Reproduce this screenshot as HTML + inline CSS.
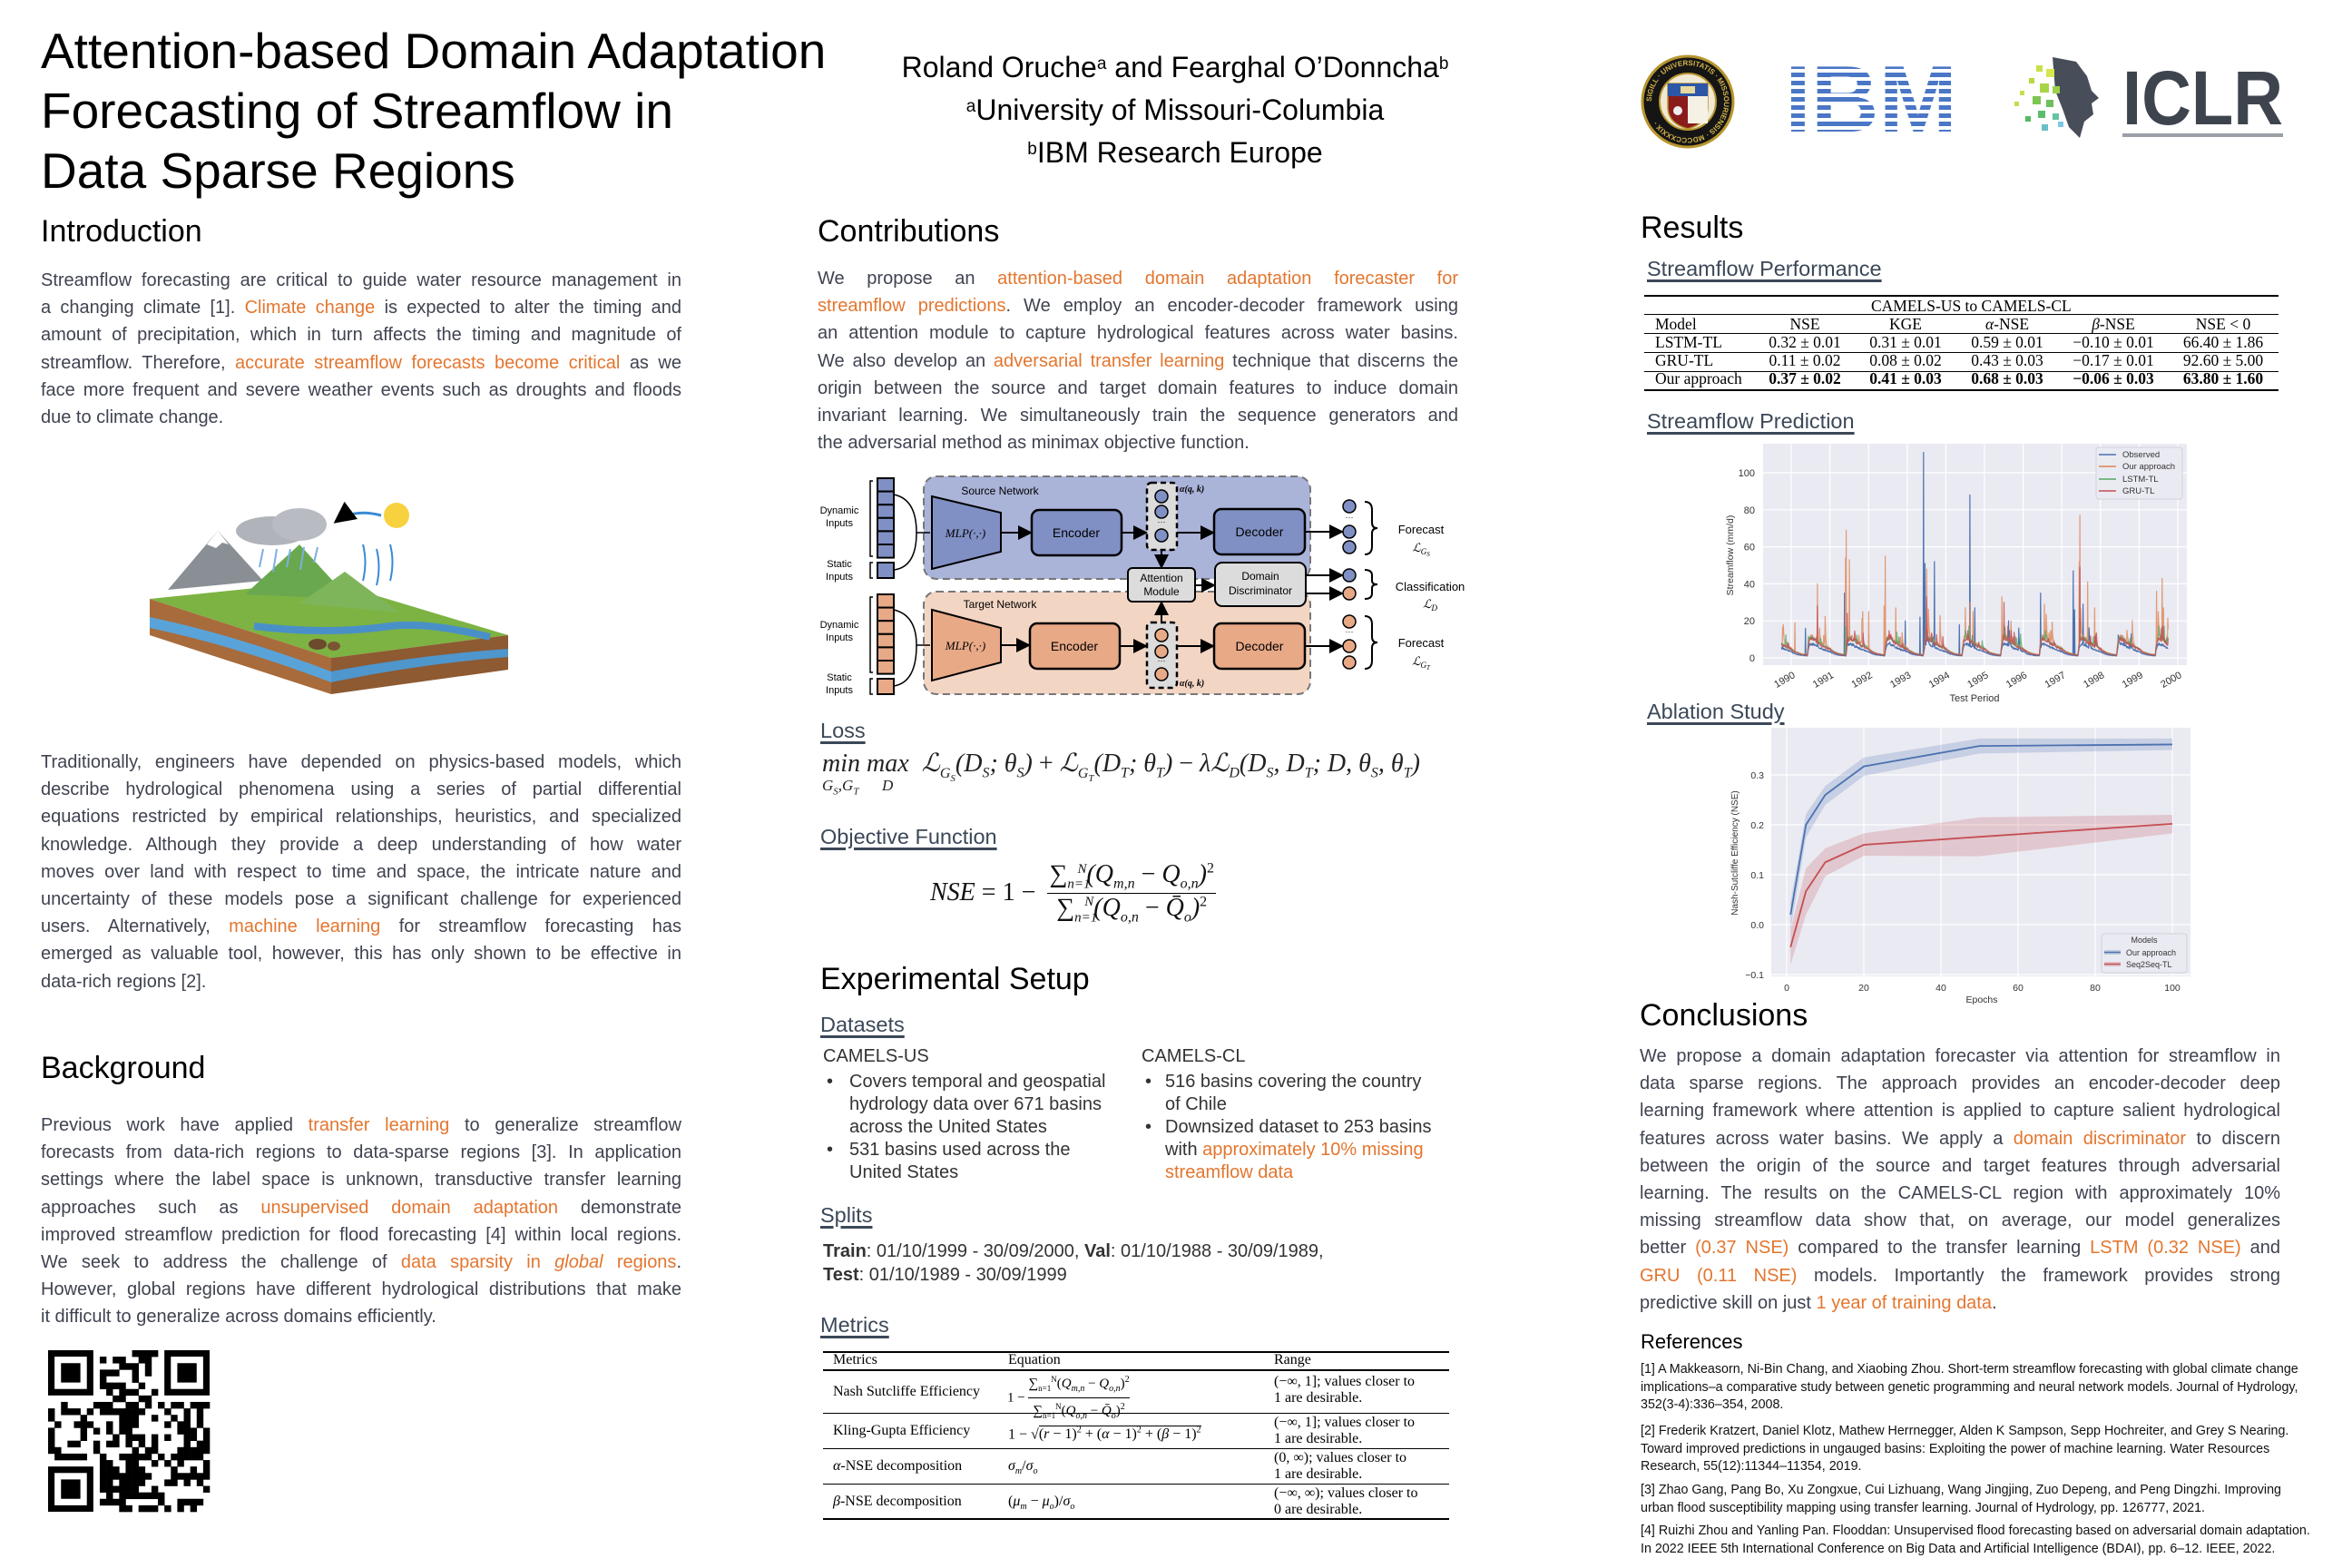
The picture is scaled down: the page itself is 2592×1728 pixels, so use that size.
<!DOCTYPE html>
<html><head><meta charset="utf-8">
<style>
*{margin:0;padding:0;box-sizing:border-box}
body{width:2592px;height:1728px;background:#fff;position:relative;overflow:hidden;font-family:"Liberation Sans",Arial,sans-serif;color:#3f4350}
.a{position:absolute}
.title{left:45px;top:23px;font-size:55px;line-height:66px;color:#000;white-space:nowrap}
.auth{left:945px;top:51px;width:700px;text-align:center;font-size:32px;line-height:47px;color:#000;white-space:nowrap}
.auth sup{font-size:19px;vertical-align:top;position:relative;top:-4px}
.h{font-size:34px;line-height:40px;color:#000;white-space:nowrap}
.sh{font-size:23.5px;line-height:30px;color:#3b4858;text-decoration:underline;text-decoration-thickness:3px;text-underline-offset:4px;white-space:nowrap}
.p{font-size:20px;width:706px}
.p div{height:30.2px;line-height:30.2px;white-space:nowrap}
.p .j{text-align:justify;text-align-last:justify}
.o{color:#e3762f}
.ds{font-size:20px;line-height:25px;color:#333;white-space:nowrap}
.ref{font-size:14.3px;line-height:19.5px;color:#111;white-space:nowrap;left:1808px}
.serif{font-family:"Liberation Serif","Times New Roman",serif;color:#000}
.tb{font-size:17.5px;line-height:20px;white-space:nowrap}
.mt{font-size:16px;line-height:18px;white-space:nowrap}
.hr{position:absolute;background:#000}
.frac{display:inline-block;vertical-align:middle;text-align:center}
.frac>span{display:block}
.frac .num{border-bottom:1.5px solid #000}
</style></head><body>

<div class="a title">Attention-based Domain Adaptation<br>Forecasting of Streamflow in<br>Data Sparse Regions</div>
<div class="a auth">Roland Oruche<sup>a</sup> and Fearghal O’Donncha<sup>b</sup><br><sup>a</sup>University of Missouri-Columbia<br><sup>b</sup>IBM Research Europe</div>

<svg class="a" style="left:0;top:0" width="2592" height="1728" xmlns="http://www.w3.org/2000/svg" font-family="Liberation Sans, Arial, sans-serif">
<defs>
<marker id="ar" markerWidth="8" markerHeight="8" refX="7" refY="4" orient="auto"><path d="M0,0 L8,4 L0,8 z" fill="#000"/></marker>
<path id="sealp" d="M1860,112 m-40,0 a40,40 0 1,1 80,0 a40,40 0 1,1 -80,0"/>
</defs>
<!-- Seal -->
<circle cx="1860" cy="112" r="50" fill="#151515" stroke="#b8962e" stroke-width="3"/>
<circle cx="1860" cy="112" r="31" fill="#efe9d6" stroke="#b8962e" stroke-width="2"/>
<text font-size="8" fill="#d4b44a" font-weight="bold"><textPath href="#sealp">SIGILL · UNIVERSITATIS · MISSOURIENSIS · MDCCCXXXIX ·</textPath></text>
<path d="M1838,92 L1882,92 L1882,118 Q1882,136 1860,142 Q1838,136 1838,118 Z" fill="#8b1c1c" stroke="#b8962e" stroke-width="1.5"/>
<rect x="1838" y="92" width="44" height="14" fill="#2c57a8"/>
<rect x="1860" y="106" width="22" height="30" fill="#f5f1e4"/>
<rect x="1852" y="95" width="16" height="8" fill="#e8d9a0"/>
<circle cx="1849" cy="122" r="5" fill="#eee"/>
<!-- IBM -->
<text x="1967" y="145" font-size="104" font-weight="bold" fill="#4a76c6" textLength="190" lengthAdjust="spacingAndGlyphs" font-family="Liberation Sans, Arial">IBM</text>
<g fill="#fff">
<rect x="1960" y="76" width="205" height="4"/><rect x="1960" y="85" width="205" height="4"/><rect x="1960" y="94" width="205" height="4"/><rect x="1960" y="103" width="205" height="4"/><rect x="1960" y="112" width="205" height="4"/><rect x="1960" y="121" width="205" height="4"/><rect x="1960" y="130" width="205" height="4"/><rect x="1960" y="139" width="205" height="4"/>
</g>
<!-- ICLR -->
<polygon points="2262,63 2288,68 2300,84 2305,100 2313,108 2305,114 2307,126 2297,134 2292,152 2280,140 2273,120 2265,100" fill="#474d59"/>
<g>
<rect x="2244" y="72" width="7" height="7" fill="#c8e04a"/><rect x="2255" y="76" width="9" height="9" fill="#d5e64f"/><rect x="2236" y="86" width="6" height="6" fill="#b5d940"/>
<rect x="2248" y="92" width="10" height="10" fill="#a8d548"/><rect x="2262" y="95" width="8" height="8" fill="#9bd04a"/><rect x="2226" y="100" width="5" height="5" fill="#c6e050"/>
<rect x="2240" y="106" width="9" height="9" fill="#7cc551"/><rect x="2255" y="110" width="8" height="8" fill="#6cbf5a"/><rect x="2220" y="112" width="5" height="5" fill="#bfe04b"/>
<rect x="2246" y="122" width="8" height="8" fill="#5cbc6d"/><rect x="2262" y="125" width="7" height="7" fill="#64c3a0"/><rect x="2232" y="128" width="6" height="6" fill="#58b866"/>
<rect x="2250" y="137" width="7" height="7" fill="#6ac0c8"/><rect x="2268" y="134" width="6" height="6" fill="#7cc8e8"/>
</g>
<text x="2339" y="137" font-size="84" font-weight="bold" fill="#3e444e" textLength="177" lengthAdjust="spacingAndGlyphs">ICLR</text>
<rect x="2339" y="147" width="177" height="4" fill="#9aa0a6"/>

<!-- Illustration -->
<g>
<polygon points="165,660 360,640 560,700 365,725" fill="#7cb342"/>
<polygon points="165,660 365,725 365,765 165,700" fill="#a86b3c"/>
<polygon points="365,725 560,700 560,738 365,765" fill="#8d5a32"/>
<path d="M165,680 Q260,700 365,740 L365,752 Q260,712 165,692 Z" fill="#5aa3d9"/>
<path d="M365,740 Q460,722 560,715 L560,724 Q460,732 365,752 Z" fill="#4f96cc"/>
<polygon points="185,650 240,585 290,640" fill="#8a8f96"/>
<polygon points="228,600 240,585 252,600 245,598 238,604" fill="#fff"/>
<polygon points="270,655 330,600 385,660" fill="#6aa84f"/>
<polygon points="330,665 380,630 440,675" fill="#7fb55a"/>
<path d="M280,690 Q360,700 430,690 Q470,685 540,702" stroke="#4a90c8" stroke-width="8" fill="none"/>
<ellipse cx="300" cy="585" rx="40" ry="16" fill="#b0b4ba"/><ellipse cx="330" cy="578" rx="30" ry="18" fill="#b8bcc2"/>
<g stroke="#7ab0e0" stroke-width="2"><line x1="290" y1="605" x2="286" y2="625"/><line x1="305" y1="605" x2="301" y2="630"/><line x1="320" y1="605" x2="316" y2="625"/><line x1="335" y1="603" x2="331" y2="628"/><line x1="350" y1="603" x2="346" y2="620"/></g>
<circle cx="437" cy="568" r="14" fill="#f7d23e"/>
<path d="M420,568 Q390,560 370,575" stroke="#3a8ad6" stroke-width="3" fill="none" marker-end="url(#ar)"/>
<g stroke="#3a8ad6" stroke-width="2" fill="none"><path d="M400,640 Q405,620 400,600"/><path d="M415,645 Q420,625 415,605"/><path d="M430,640 Q435,620 430,600"/></g>
<ellipse cx="350" cy="710" rx="10" ry="6" fill="#6b4a2e"/><ellipse cx="368" cy="712" rx="7" ry="5" fill="#7a5534"/>
</g>

<!-- Architecture diagram -->
<g font-size="12" fill="#000">
<rect x="1018" y="525" width="426" height="113" rx="14" fill="#aab3d8" stroke="#777" stroke-width="2" stroke-dasharray="8,5"/>
<rect x="1018" y="652" width="426" height="113" rx="14" fill="#f3d5c4" stroke="#777" stroke-width="2" stroke-dasharray="8,5"/>
<text x="1102" y="545" text-anchor="middle" font-size="12">Source Network</text>
<text x="1102" y="670" text-anchor="middle" font-size="12">Target Network</text>
<g stroke="#000" stroke-width="2" fill="#8090c4">
<rect x="967" y="527" width="18" height="14.6"/><rect x="967" y="541.6" width="18" height="14.6"/><rect x="967" y="556.2" width="18" height="14.6"/><rect x="967" y="570.8" width="18" height="14.6"/><rect x="967" y="585.4" width="18" height="14.6"/><rect x="967" y="600" width="18" height="14.6"/>
<rect x="967" y="620" width="18" height="17"/>
</g>
<g stroke="#000" stroke-width="2" fill="#e8a987">
<rect x="967" y="655" width="18" height="14.6"/><rect x="967" y="669.6" width="18" height="14.6"/><rect x="967" y="684.2" width="18" height="14.6"/><rect x="967" y="698.8" width="18" height="14.6"/><rect x="967" y="713.4" width="18" height="14.6"/><rect x="967" y="728" width="18" height="14.6"/>
<rect x="967" y="748" width="18" height="17"/>
</g>
<g stroke="#000" stroke-width="1.5" fill="none">
<path d="M962,530 L959,530 L959,613 L962,613"/><path d="M962,620 L959,620 L959,637 L962,637"/>
<path d="M962,658 L959,658 L959,741 L962,741"/><path d="M962,748 L959,748 L959,765 L962,765"/>
<path d="M985,545 Q1010,550 1010,587 L1025,587"/><path d="M985,628 Q1010,625 1010,587"/>
<path d="M985,672 Q1010,678 1010,711 L1025,711"/><path d="M985,756 Q1010,752 1010,711"/>
</g>
<g text-anchor="middle" font-size="11"><text x="925" y="566">Dynamic</text><text x="925" y="580">Inputs</text><text x="925" y="625">Static</text><text x="925" y="639">Inputs</text>
<text x="925" y="692">Dynamic</text><text x="925" y="706">Inputs</text><text x="925" y="750">Static</text><text x="925" y="764">Inputs</text></g>
<polygon points="1027,547 1103,565 1103,608 1027,627" fill="#8090c4" stroke="#000" stroke-width="2"/>
<polygon points="1027,672 1103,692 1103,730 1027,750" fill="#e8a987" stroke="#000" stroke-width="2"/>
<text x="1064" y="592" text-anchor="middle" font-size="13" font-style="italic" font-family="Liberation Serif, serif">MLP(·,·)</text>
<text x="1064" y="716" text-anchor="middle" font-size="13" font-style="italic" font-family="Liberation Serif, serif">MLP(·,·)</text>
<rect x="1137" y="562" width="99" height="50" rx="8" fill="#8090c4" stroke="#000" stroke-width="2.5"/>
<rect x="1135" y="687" width="99" height="50" rx="8" fill="#e8a987" stroke="#000" stroke-width="2.5"/>
<rect x="1338" y="561" width="100" height="50" rx="8" fill="#8090c4" stroke="#000" stroke-width="2.5"/>
<rect x="1338" y="687" width="100" height="50" rx="8" fill="#e8a987" stroke="#000" stroke-width="2.5"/>
<g font-size="14" text-anchor="middle"><text x="1186" y="592">Encoder</text><text x="1184" y="717">Encoder</text><text x="1388" y="591">Decoder</text><text x="1388" y="717">Decoder</text></g>
<rect x="1264" y="532" width="33" height="74" rx="5" fill="#dcdcdc" stroke="#000" stroke-width="2.5" stroke-dasharray="6,4"/>
<rect x="1264" y="686" width="33" height="72" rx="5" fill="#dcdcdc" stroke="#000" stroke-width="2.5" stroke-dasharray="6,4"/>
<g stroke="#000" stroke-width="1.5"><circle cx="1280" cy="547" r="7" fill="#8090c4"/><circle cx="1280" cy="564" r="7" fill="#8090c4"/><circle cx="1280" cy="590" r="7" fill="#8090c4"/>
<circle cx="1280" cy="700" r="7" fill="#e8a987"/><circle cx="1280" cy="718" r="7" fill="#e8a987"/><circle cx="1280" cy="743" r="7" fill="#e8a987"/>
<circle cx="1487" cy="558" r="7" fill="#8090c4"/><circle cx="1487" cy="586" r="7" fill="#8090c4"/><circle cx="1487" cy="603" r="7" fill="#8090c4"/>
<circle cx="1487" cy="634" r="7" fill="#8090c4"/><circle cx="1487" cy="654" r="7" fill="#e8a987"/>
<circle cx="1487" cy="685" r="7" fill="#e8a987"/><circle cx="1487" cy="712" r="7" fill="#e8a987"/><circle cx="1487" cy="730" r="7" fill="#e8a987"/></g>
<g font-size="9" text-anchor="middle"><text x="1280" y="578">···</text><text x="1280" y="731">···</text><text x="1487" y="573">···</text><text x="1487" y="699">···</text></g>
<g font-size="10" font-weight="bold" font-style="italic" font-family="Liberation Serif, serif"><text x="1300" y="542">α(q, k)</text><text x="1300" y="756">α(q, k)</text></g>
<rect x="1243" y="626" width="74" height="37" rx="5" fill="#dcdcdc" stroke="#000" stroke-width="2"/>
<rect x="1339" y="620" width="100" height="48" rx="8" fill="#dcdcdc" stroke="#000" stroke-width="2"/>
<g font-size="12" text-anchor="middle"><text x="1280" y="641">Attention</text><text x="1280" y="656">Module</text><text x="1389" y="639">Domain</text><text x="1389" y="655">Discriminator</text></g>
<g stroke="#000" stroke-width="2" marker-end="url(#ar)">
<line x1="1103" y1="587" x2="1136" y2="587"/><line x1="1236" y1="587" x2="1263" y2="587"/><line x1="1297" y1="587" x2="1337" y2="587"/><line x1="1438" y1="586" x2="1479" y2="586"/>
<line x1="1103" y1="711" x2="1134" y2="711"/><line x1="1234" y1="712" x2="1263" y2="712"/><line x1="1297" y1="712" x2="1337" y2="712"/><line x1="1438" y1="712" x2="1479" y2="712"/>
<line x1="1280" y1="606" x2="1280" y2="625"/><line x1="1280" y1="686" x2="1280" y2="664"/><line x1="1317" y1="645" x2="1338" y2="645"/>
<line x1="1439" y1="634" x2="1479" y2="634"/><line x1="1439" y1="654" x2="1479" y2="654"/>
</g>
<g stroke="#000" stroke-width="2" fill="none">
<path d="M1504,553 Q1512,553 1512,562 L1512,576 Q1512,582 1518,582 Q1512,582 1512,588 L1512,602 Q1512,611 1504,611"/>
<path d="M1504,628 Q1512,628 1512,634 L1512,640 Q1512,644 1518,644 Q1512,644 1512,648 L1512,654 Q1512,660 1504,660"/>
<path d="M1504,679 Q1512,679 1512,688 L1512,702 Q1512,708 1518,708 Q1512,708 1512,714 L1512,728 Q1512,737 1504,737"/>
</g>
<g font-size="13" text-anchor="middle"><text x="1566" y="588">Forecast</text><text x="1576" y="651">Classification</text><text x="1566" y="713">Forecast</text></g>
<g font-size="13" text-anchor="middle" font-style="italic" font-family="Liberation Serif, serif"><text x="1566" y="608">ℒ<tspan font-size="9" dy="3">G</tspan><tspan font-size="7" dy="2">S</tspan></text><text x="1576" y="670">ℒ<tspan font-size="9" dy="3">D</tspan></text><text x="1566" y="733">ℒ<tspan font-size="9" dy="3">G</tspan><tspan font-size="7" dy="2">T</tspan></text></g>
</g>

<!-- Streamflow chart -->
<g id="sf">
<rect x="1943" y="489" width="467" height="244" fill="#eaeaf2"/>
<g stroke="#fff" stroke-width="1.2" id="sfgrid"></g>
<g id="sfseries" fill="none" stroke-width="1.2" stroke-linejoin="round"></g>
<rect x="2310" y="493" width="95" height="57" fill="#eaeaf2" stroke="#d0d0d8" rx="3" opacity="0.95"/>
<g stroke-width="1.6"><line x1="2313" y1="501" x2="2332" y2="501" stroke="#4c72b0"/><line x1="2313" y1="514" x2="2332" y2="514" stroke="#dd8452"/><line x1="2313" y1="528" x2="2332" y2="528" stroke="#55a868"/><line x1="2313" y1="541" x2="2332" y2="541" stroke="#c44e52"/></g>
<g font-size="9.5" fill="#333"><text x="2339" y="504">Observed</text><text x="2339" y="517">Our approach</text><text x="2339" y="531">LSTM-TL</text><text x="2339" y="544">GRU-TL</text></g>
<g id="sfticks" font-size="11" fill="#333"></g>
<text x="2176" y="773" text-anchor="middle" font-size="11" fill="#333">Test Period</text>
<text transform="translate(1910,612) rotate(-90)" text-anchor="middle" font-size="10.5" fill="#333">Streamflow (mm/d)</text>
</g>

<!-- Ablation chart -->
<g id="ab">
<rect x="1952" y="802" width="462" height="274" fill="#eaeaf2"/>
<g stroke="#fff" stroke-width="1.2" id="abgrid"></g>
<g id="abseries"></g>
<rect x="2316" y="1029" width="94" height="43" fill="#eaeaf2" stroke="#d0d0d8" rx="3"/>
<text x="2363" y="1039" text-anchor="middle" font-size="9" fill="#333">Models</text>
<rect x="2319" y="1047" width="18" height="5" fill="#4c72b0" opacity="0.25"/><line x1="2319" y1="1049.5" x2="2337" y2="1049.5" stroke="#4c72b0" stroke-width="1.6"/>
<rect x="2319" y="1060" width="18" height="5" fill="#c44e52" opacity="0.25"/><line x1="2319" y1="1062.5" x2="2337" y2="1062.5" stroke="#c44e52" stroke-width="1.6"/>
<g font-size="9" fill="#333"><text x="2343" y="1053">Our approach</text><text x="2343" y="1066">Seq2Seq-TL</text></g>
<g id="abticks" font-size="10.5" fill="#333"></g>
<text x="2184" y="1105" text-anchor="middle" font-size="10.5" fill="#333">Epochs</text>
<text transform="translate(1915,940) rotate(-90)" text-anchor="middle" font-size="10" fill="#333">Nash-Sutcliffe Efficiency (NSE)</text>
</g>

<!-- QR -->
<g id="qr"></g>
</svg>

<!-- Headings -->
<div class="a h" style="left:45px;top:235px">Introduction</div>
<div class="a h" style="left:901px;top:235px">Contributions</div>
<div class="a h" style="left:1808px;top:231px">Results</div>
<div class="a h" style="left:45px;top:1157px">Background</div>
<div class="a h" style="left:904px;top:1059px">Experimental Setup</div>
<div class="a h" style="left:1807px;top:1099px">Conclusions</div>

<div class="a sh" style="left:904px;top:790px">Loss</div>
<div class="a sh" style="left:904px;top:907px">Objective Function</div>
<div class="a sh" style="left:904px;top:1114px">Datasets</div>
<div class="a sh" style="left:904px;top:1324px">Splits</div>
<div class="a sh" style="left:904px;top:1445px">Metrics</div>
<div class="a sh" style="left:1815px;top:281px">Streamflow Performance</div>
<div class="a sh" style="left:1815px;top:449px">Streamflow Prediction</div>
<div class="a sh" style="left:1815px;top:769px">Ablation Study</div>

<!-- Intro -->
<div class="a p" style="left:45px;top:294px">
<div class="j">Streamflow forecasting are critical to guide water resource management in</div>
<div class="j">a changing climate [1]. <span class="o">Climate change</span> is expected to alter the timing and</div>
<div class="j">amount of precipitation, which in turn affects the timing and magnitude of</div>
<div class="j">streamflow. Therefore, <span class="o">accurate streamflow forecasts become critical</span> as we</div>
<div class="j">face more frequent and severe weather events such as droughts and floods</div>
<div>due to climate change.</div>
</div>
<div class="a p" style="left:45px;top:825px">
<div class="j">Traditionally, engineers have depended on physics-based models, which</div>
<div class="j">describe hydrological phenomena using a series of partial differential</div>
<div class="j">equations restricted by empirical relationships, heuristics, and specialized</div>
<div class="j">knowledge. Although they provide a deep understanding of how water</div>
<div class="j">moves over land with respect to time and space, the intricate nature and</div>
<div class="j">uncertainty of these models pose a significant challenge for experienced</div>
<div class="j">users. Alternatively, <span class="o">machine learning</span> for streamflow forecasting has</div>
<div class="j">emerged as valuable tool, however, this has only shown to be effective in</div>
<div>data-rich regions [2].</div>
</div>
<div class="a p" style="left:45px;top:1225px">
<div class="j">Previous work have applied <span class="o">transfer learning</span> to generalize streamflow</div>
<div class="j">forecasts from data-rich regions to data-sparse regions [3]. In application</div>
<div class="j">settings where the label space is unknown, transductive transfer learning</div>
<div class="j">approaches such as <span class="o">unsupervised domain adaptation</span> demonstrate</div>
<div class="j">improved streamflow prediction for flood forecasting [4] within local regions.</div>
<div class="j">We seek to address the challenge of <span class="o">data sparsity in <i>global</i> regions</span>.</div>
<div class="j">However, global regions have different hydrological distributions that make</div>
<div>it difficult to generalize across domains efficiently.</div>
</div>
<div class="a p" style="left:901px;top:292px">
<div class="j">We propose an <span class="o">attention-based domain adaptation forecaster for</span></div>
<div class="j"><span class="o">streamflow predictions</span>. We employ an encoder-decoder framework using</div>
<div class="j">an attention module to capture hydrological features across water basins.</div>
<div class="j">We also develop an <span class="o">adversarial transfer learning</span> technique that discerns the</div>
<div class="j">origin between the source and target domain features to induce domain</div>
<div class="j">invariant learning. We simultaneously train the sequence generators and</div>
<div>the adversarial method as minimax objective function.</div>
</div>
<div class="a p" style="left:1807px;top:1149px">
<div class="j">We propose a domain adaptation forecaster via attention for streamflow in</div>
<div class="j">data sparse regions. The approach provides an encoder-decoder deep</div>
<div class="j">learning framework where attention is applied to capture salient hydrological</div>
<div class="j">features across water basins. We apply a <span class="o">domain discriminator</span> to discern</div>
<div class="j">between the origin of the source and target features through adversarial</div>
<div class="j">learning. The results on the CAMELS-CL region with approximately 10%</div>
<div class="j">missing streamflow data show that, on average, our model generalizes</div>
<div class="j">better <span class="o">(0.37 NSE)</span> compared to the transfer learning <span class="o">LSTM (0.32 NSE)</span> and</div>
<div class="j"><span class="o">GRU (0.11 NSE)</span> models. Importantly the framework provides strong</div>
<div>predictive skill on just <span class="o">1 year of training data</span>.</div>
</div>

<!-- Loss equation -->
<div class="a serif" style="left:906px;top:826px;font-size:28px;line-height:32px;white-space:nowrap;font-style:italic;color:#222">min max&nbsp; ℒ<sub style="font-size:16px">G<sub style="font-size:11px">S</sub></sub>(D<sub style="font-size:16px">S</sub>; θ<sub style="font-size:16px">S</sub>) <span style="font-style:normal">+</span> ℒ<sub style="font-size:16px">G<sub style="font-size:11px">T</sub></sub>(D<sub style="font-size:16px">T</sub>; θ<sub style="font-size:16px">T</sub>) <span style="font-style:normal">−</span> λℒ<sub style="font-size:16px">D</sub>(D<sub style="font-size:16px">S</sub>, D<sub style="font-size:16px">T</sub>; D, θ<sub style="font-size:16px">S</sub>, θ<sub style="font-size:16px">T</sub>)</div>
<div class="a serif" style="left:906px;top:856px;font-size:17px;font-style:italic;white-space:nowrap;color:#222">G<sub style="font-size:11px">S</sub>,G<sub style="font-size:11px">T</sub>&nbsp;&nbsp;&nbsp;&nbsp;&nbsp; D</div>

<!-- NSE equation -->
<div class="a serif" style="left:1025px;top:948px;font-size:28px;white-space:nowrap;font-style:italic;color:#111">
<span style="vertical-align:middle">NSE <span style="font-style:normal">= 1 −</span></span>
<span class="frac" style="margin-left:6px"><span class="num" style="padding:0 2px">∑<sub style="font-size:15px">n=1</sub><sup style="font-size:15px;margin-left:-14px">N</sup>(Q<sub style="font-size:16px">m,n</sub> <span style="font-style:normal">−</span> Q<sub style="font-size:16px">o,n</sub>)<sup style="font-size:16px;font-style:normal">2</sup></span><span>∑<sub style="font-size:15px">n=1</sub><sup style="font-size:15px;margin-left:-14px">N</sup>(Q<sub style="font-size:16px">o,n</sub> <span style="font-style:normal">−</span> Q̄<sub style="font-size:16px">o</sub>)<sup style="font-size:16px;font-style:normal">2</sup></span></span>
</div>

<!-- Datasets -->
<div class="a ds" style="left:907px;top:1152px">CAMELS-US</div>
<div class="a ds" style="left:1258px;top:1152px">CAMELS-CL</div>
<div class="a ds" style="left:911px;top:1180px">•<br><br><br>•</div>
<div class="a ds" style="left:936px;top:1180px">Covers temporal and geospatial<br>hydrology data over 671 basins<br>across the United States<br>531 basins used across the<br>United States</div>
<div class="a ds" style="left:1262px;top:1180px">•<br><br>•</div>
<div class="a ds" style="left:1284px;top:1180px">516 basins covering the country<br>of Chile<br>Downsized dataset to 253 basins<br>with <span class="o">approximately 10% missing</span><br><span class="o">streamflow data</span></div>

<div class="a ds" style="left:907px;top:1366px;line-height:26px"><b>Train</b>: 01/10/1999 - 30/09/2000, <b>Val</b>: 01/10/1988 - 30/09/1989,<br><b>Test</b>: 01/10/1989 - 30/09/1999</div>

<!-- Metrics table -->
<div class="hr" style="left:907px;top:1489px;width:690px;height:2px"></div>
<div class="hr" style="left:907px;top:1509px;width:690px;height:1.5px"></div>
<div class="hr" style="left:907px;top:1557px;width:690px;height:1px"></div>
<div class="hr" style="left:907px;top:1596px;width:690px;height:1px"></div>
<div class="hr" style="left:907px;top:1635px;width:690px;height:1px"></div>
<div class="hr" style="left:907px;top:1673px;width:690px;height:2px"></div>
<div class="a serif mt" style="left:918px;top:1490px">Metrics</div>
<div class="a serif mt" style="left:1111px;top:1490px">Equation</div>
<div class="a serif mt" style="left:1404px;top:1490px">Range</div>
<div class="a serif mt" style="left:918px;top:1525px">Nash Sutcliffe Efficiency</div>
<div class="a serif mt" style="left:918px;top:1568px">Kling-Gupta Efficiency</div>
<div class="a serif mt" style="left:918px;top:1607px"><i>α</i>-NSE decomposition</div>
<div class="a serif mt" style="left:918px;top:1646px"><i>β</i>-NSE decomposition</div>
<div class="a serif mt" style="left:1110px;top:1511px;font-size:15px"><span style="vertical-align:middle">1 −</span> <span class="frac"><span class="num" style="line-height:19px">∑<sub style="font-size:9px">n=1</sub><sup style="font-size:9px">N</sup>(<i>Q<sub style="font-size:10px">m,n</sub></i> − <i>Q<sub style="font-size:10px">o,n</sub></i>)<sup style="font-size:10px">2</sup></span><span style="line-height:19px">∑<sub style="font-size:9px">n=1</sub><sup style="font-size:9px">N</sup>(<i>Q<sub style="font-size:10px">o,n</sub></i> − <i>Q̄<sub style="font-size:10px">o</sub></i>)<sup style="font-size:10px">2</sup></span></span></div>
<div class="a serif mt" style="left:1111px;top:1568px">1 − √<span style="border-top:1px solid #000">(<i>r</i> − 1)<sup style="font-size:10px">2</sup> + (<i>α</i> − 1)<sup style="font-size:10px">2</sup> + (<i>β</i> − 1)<sup style="font-size:10px">2</sup></span></div>
<div class="a serif mt" style="left:1111px;top:1607px"><i>σ<sub style="font-size:10px">m</sub></i>/<i>σ<sub style="font-size:10px">o</sub></i></div>
<div class="a serif mt" style="left:1111px;top:1646px">(<i>μ<sub style="font-size:10px">m</sub></i> − <i>μ<sub style="font-size:10px">o</sub></i>)/<i>σ<sub style="font-size:10px">o</sub></i></div>
<div class="a serif mt" style="left:1404px;top:1514px">(−∞, 1]; values closer to<br>1 are desirable.</div>
<div class="a serif mt" style="left:1404px;top:1559px">(−∞, 1]; values closer to<br>1 are desirable.</div>
<div class="a serif mt" style="left:1404px;top:1598px">(0, ∞); values closer to<br>1 are desirable.</div>
<div class="a serif mt" style="left:1404px;top:1637px">(−∞, ∞); values closer to<br>0 are desirable.</div>

<!-- Results table -->
<div class="hr" style="left:1812px;top:325px;width:699px;height:2px"></div>
<div class="hr" style="left:1812px;top:346px;width:699px;height:1px"></div>
<div class="hr" style="left:1812px;top:367px;width:699px;height:1px"></div>
<div class="hr" style="left:1812px;top:388px;width:699px;height:1px"></div>
<div class="hr" style="left:1812px;top:409px;width:699px;height:1px"></div>
<div class="hr" style="left:1812px;top:429px;width:699px;height:2px"></div>
<div class="a serif tb" style="left:2062px;top:327px;width:200px;text-align:center">CAMELS-US to CAMELS-CL</div>
<div class="a serif tb" style="left:1824px;top:347px">Model<br>LSTM-TL<br>GRU-TL<br>Our approach</div>
<div class="a serif tb" style="left:1929px;top:347px;width:120px;text-align:center">NSE<br>0.32 ± 0.01<br>0.11 ± 0.02<br><b>0.37 ± 0.02</b></div>
<div class="a serif tb" style="left:2040px;top:347px;width:120px;text-align:center">KGE<br>0.31 ± 0.01<br>0.08 ± 0.02<br><b>0.41 ± 0.03</b></div>
<div class="a serif tb" style="left:2152px;top:347px;width:120px;text-align:center"><i>α</i>-NSE<br>0.59 ± 0.01<br>0.43 ± 0.03<br><b>0.68 ± 0.03</b></div>
<div class="a serif tb" style="left:2264px;top:347px;width:130px;text-align:center"><i>β</i>-NSE<br>−0.10 ± 0.01<br>−0.17 ± 0.01<br><b>−0.06 ± 0.03</b></div>
<div class="a serif tb" style="left:2385px;top:347px;width:130px;text-align:center">NSE &lt; 0<br>66.40 ± 1.86<br>92.60 ± 5.00<br><b>63.80 ± 1.60</b></div>

<!-- References -->
<div class="a" style="left:1808px;top:1465px;font-size:22px;line-height:28px;color:#000">References</div>
<div class="a ref" style="top:1500px">[1] A Makkeasorn, Ni-Bin Chang, and Xiaobing Zhou. Short-term streamflow forecasting with global climate change<br>implications–a comparative study between genetic programming and neural network models. Journal of Hydrology,<br>352(3-4):336–354, 2008.</div>
<div class="a ref" style="top:1568px">[2] Frederik Kratzert, Daniel Klotz, Mathew Herrnegger, Alden K Sampson, Sepp Hochreiter, and Grey S Nearing.<br>Toward improved predictions in ungauged basins: Exploiting the power of machine learning. Water Resources<br>Research, 55(12):11344–11354, 2019.</div>
<div class="a ref" style="top:1633px">[3] Zhao Gang, Pang Bo, Xu Zongxue, Cui Lizhuang, Wang Jingjing, Zuo Depeng, and Peng Dingzhi. Improving<br>urban flood susceptibility mapping using transfer learning. Journal of Hydrology, pp. 126777, 2021.</div>
<div class="a ref" style="top:1678px">[4] Ruizhi Zhou and Yanling Pan. Flooddan: Unsupervised flood forecasting based on adversarial domain adaptation.<br>In 2022 IEEE 5th International Conference on Big Data and Artificial Intelligence (BDAI), pp. 6–12. IEEE, 2022.</div>

<script>
(function(){
var NS="http://www.w3.org/2000/svg";
function el(p,t,a,txt){var e=document.createElementNS(NS,t);for(var k in a)e.setAttribute(k,a[k]);if(txt!=null)e.textContent=txt;p.appendChild(e);return e;}
var seed=12345;function r(){seed=(seed*16807)%2147483647;return seed/2147483647;}
var X=function(y){return 1974+42.6*(y-1990);},Y=function(v){return 725-2.04*v;};
var g=document.getElementById('sfgrid'),tk=document.getElementById('sfticks');
for(var v=0;v<=100;v+=20){el(g,'line',{x1:1943,x2:2410,y1:Y(v),y2:Y(v)});el(tk,'text',{x:1934,y:Y(v)+4,'text-anchor':'end'},v);}
for(var y=1990;y<=2000;y++){el(g,'line',{x1:X(y),x2:X(y),y1:489,y2:733});el(tk,'text',{x:X(y)+5,y:746,'text-anchor':'end',transform:'rotate(-30 '+(X(y)+5)+' 746)'},y);}
var N=1100,t0=1989.75,dt=10/N;
function season(t){var f=t-Math.floor(t);if(f>=0.42){return (1-Math.exp(-(f-0.42)*25))*Math.exp(-(f-0.42)*2.2);}return Math.exp(-0.58*2.2)*Math.exp(-f*6);}
var cfg=[{c:'#4c72b0',k:0.75,p:0.025,a:12,o:1,sp:[[1991.38,35],[1993.42,111],[1993.46,51],[1993.7,52],[1994.62,88],[1996.45,35],[1997.3,47],[1997.33,26],[1997.55,29],[1990.37,16],[1992.95,20],[1994.35,18],[1994.75,27],[1995.62,20],[1993.33,22]]},
{c:'#dd8452',k:1.15,p:0.05,a:16,o:0.8,sp:[[1990.68,40],[1991.4,54],[1991.42,69],[1991.5,53],[1992.43,55],[1992.4,28],[1992.7,27],[1993.5,48],[1994.62,30],[1995.45,33],[1996.55,29],[1997.45,52],[1997.47,77],[1997.67,41],[1997.85,27],[1999.45,36],[1999.6,43],[1999.63,27],[1990.1,19],[1991.85,25],[1992.0,25],[1994.5,27],[1994.7,25]]},
{c:'#55a868',k:1.08,p:0.05,a:7,o:0.8,sp:[[1991.4,17],[1997.47,20],[1999.65,17],[1995.5,18]]},
{c:'#c44e52',k:1.02,p:0.06,a:8,o:0.85,sp:[[1990.68,28],[1997.47,49],[1993.5,33],[1995.5,30],[1991.45,24]]}];
var sg=document.getElementById('sfseries');
cfg.forEach(function(s){var vals=[],pulse=0;for(var i=0;i<=N;i++){var t=t0+i*dt,f=t-Math.floor(t),b=1.2+12*season(t);var wet=(f>0.42&&f<0.95);pulse=pulse*0.55+((wet&&r()<s.p)?r()*s.a:0);vals.push(b*s.k*(0.9+0.2*r())+pulse);}
s.sp.forEach(function(q){var i=Math.round((q[0]-t0)/dt);if(i>=0&&i<=N)vals[i]=Math.max(vals[i],q[1]);});
var d='';for(var i=0;i<=N;i++){d+=(i?'L':'M')+X(t0+i*dt).toFixed(1)+','+Y(vals[i]).toFixed(1);}
el(sg,'path',{d:d,stroke:s.c,'stroke-opacity':s.o});});
var AX=function(e){return 1969+4.25*e;},AY=function(v){return 1019-550*v;};
var ag=document.getElementById('abgrid'),at=document.getElementById('abticks');
[-0.1,0,0.1,0.2,0.3].forEach(function(v){el(ag,'line',{x1:1952,x2:2414,y1:AY(v),y2:AY(v)});el(at,'text',{x:1944,y:AY(v)+4,'text-anchor':'end'},v<0?'−0.1':v.toFixed(1));});
[0,20,40,60,80,100].forEach(function(e){el(ag,'line',{x1:AX(e),x2:AX(e),y1:802,y2:1076});el(at,'text',{x:AX(e),y:1092,'text-anchor':'middle'},e);});
var E=[1,5,10,20,50,100];
function band(lo,hi,m,c){var as=document.getElementById('abseries');var d='';E.forEach(function(e,i){d+=(i?'L':'M')+AX(e)+','+AY(hi[i]);});for(var i=E.length-1;i>=0;i--)d+='L'+AX(E[i])+','+AY(lo[i]);el(as,'path',{d:d+'Z',fill:c,'fill-opacity':0.22});var d2='';E.forEach(function(e,i){d2+=(i?'L':'M')+AX(e)+','+AY(m[i]);});el(as,'path',{d:d2,fill:'none',stroke:c,'stroke-width':1.8});}
band([-0.01,0.175,0.24,0.298,0.343,0.35],[0.045,0.222,0.278,0.335,0.373,0.373],[0.02,0.2,0.26,0.317,0.358,0.361],'#4c72b0');
band([-0.08,0.02,0.097,0.138,0.137,0.183],[-0.01,0.113,0.153,0.183,0.215,0.22],[-0.045,0.067,0.125,0.16,0.176,0.202],'#c44e52');
var qg=document.getElementById('qr'),n=25,s=178/25,ox=53,oy=1488;
el(qg,'rect',{x:ox,y:oy,width:178,height:178,fill:'#fff'});
function fin(cx,cy){el(qg,'rect',{x:ox+cx*s,y:oy+cy*s,width:7*s,height:7*s,fill:'#000'});el(qg,'rect',{x:ox+(cx+1)*s,y:oy+(cy+1)*s,width:5*s,height:5*s,fill:'#fff'});el(qg,'rect',{x:ox+(cx+2)*s,y:oy+(cy+2)*s,width:3*s,height:3*s,fill:'#000'});}
for(var i=0;i<n;i++)for(var j=0;j<n;j++){var inF=(i<8&&j<8)||(i>=n-8&&j<8)||(i<8&&j>=n-8);if(!inF&&r()<0.5)el(qg,'rect',{x:ox+i*s,y:oy+j*s,width:s+0.3,height:s+0.3,fill:'#000'});}
fin(0,0);fin(n-7,0);fin(0,n-7);
})();
</script>
</body></html>
